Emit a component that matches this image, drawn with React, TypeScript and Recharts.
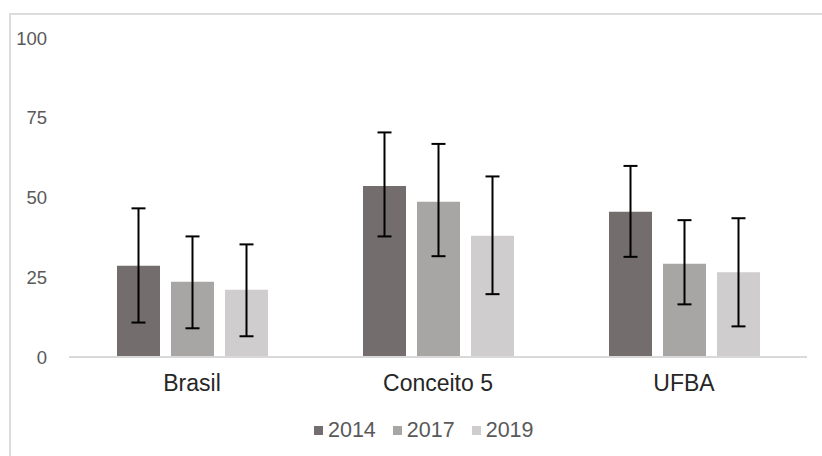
import React from "react";
import { BarChart, Bar, XAxis, YAxis, ErrorBar, Legend } from "recharts";

const categories = ["Brasil", "Conceito 5", "UFBA"];
const years = ["2014", "2017", "2019"];
const values2014 = [28.6, 53.6, 45.5];
const values2017 = [23.6, 48.7, 29.2];
const values2019 = [21.1, 38.0, 26.6];
const err2014: [number, number][] = [[17.8, 18.0], [15.8, 16.8], [14.1, 14.4]];
const err2017: [number, number][] = [[14.6, 14.2], [17.1, 18.1], [12.7, 13.7]];
const err2019: [number, number][] = [[14.6, 14.2], [18.3, 18.6], [17.0, 16.9]];
const yTicks = [0, 25, 50, 75, 100];
const colors = ["#736d6d", "#a8a5a5", "#cfcdcd"];

const data = categories.map((c, i) => ({
  name: c,
  v2014: values2014[i],
  v2017: values2017[i],
  v2019: values2019[i],
  e2014: err2014[i],
  e2017: err2017[i],
  e2019: err2019[i],
}));

const FONT = '"Liberation Sans", Arial, sans-serif';

const LegendContent = () => (
  <div style={{ display: "flex", alignItems: "center", fontFamily: FONT, fontSize: 21.5, color: "#595959" }}>
    {years.map((y, i) => (
      <div key={y} style={{ display: "flex", alignItems: "center", marginRight: i < years.length - 1 ? 17 : 0 }}>
        <div style={{ width: 9, height: 9, background: colors[i], marginRight: 5 }} />
        <span>{y}</span>
      </div>
    ))}
  </div>
);

export default function App() {
  return (
    <div style={{ position: "absolute", left: 0, top: 0, width: 822, height: 456, overflow: "hidden", background: "#fff" }}>
      <div
        style={{
          position: "absolute",
          left: 9,
          top: 13,
          width: 900,
          height: 600,
          borderLeft: "2px solid #dcdcdc",
          borderTop: "2px solid #dcdcdc",
        }}
      />
      <div style={{ position: "absolute", left: 0, top: 0 }}>
        <BarChart
          width={822}
          height={456}
          data={data}
          margin={{ top: 38, right: 15, left: 0, bottom: 49 }}
          barSize={43}
          barGap={11}
        >
          <XAxis
            dataKey="name"
            axisLine={{ stroke: "#d9d9d9", strokeWidth: 2 }}
            tickLine={false}
            tickSize={0}
            tickMargin={18}
            height={50}
            tick={{ fill: "#262626", fontSize: 23, fontFamily: FONT }}
          />
          <YAxis
            domain={[0, 100]}
            ticks={yTicks}
            axisLine={false}
            tickLine={false}
            tickSize={0}
            tickMargin={22}
            width={69}
            tick={{ fill: "#595959", fontSize: 18.5, fontFamily: FONT }}
          />
          <Legend
            verticalAlign="middle"
            layout="horizontal"
            content={LegendContent}
            wrapperStyle={{ top: 418, left: 314, width: 240 }}
          />
          <Bar dataKey="v2014" name="2014" fill={colors[0]} isAnimationActive={false}>
            <ErrorBar dataKey="e2014" stroke="#000" strokeWidth={2} width={7} />
          </Bar>
          <Bar dataKey="v2017" name="2017" fill={colors[1]} isAnimationActive={false}>
            <ErrorBar dataKey="e2017" stroke="#000" strokeWidth={2} width={7} />
          </Bar>
          <Bar dataKey="v2019" name="2019" fill={colors[2]} isAnimationActive={false}>
            <ErrorBar dataKey="e2019" stroke="#000" strokeWidth={2} width={7} />
          </Bar>
        </BarChart>
      </div>
    </div>
  );
}
